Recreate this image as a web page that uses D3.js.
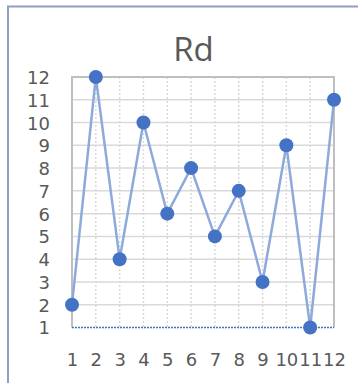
<!DOCTYPE html>
<html>
<head>
<meta charset="utf-8">
<script src="https://cdn.jsdelivr.net/npm/d3@7"></script>
<style>
  html, body { margin: 0; padding: 0; background: #fff; }
  svg { display: block; }
</style>
</head>
<body>
<svg id="chart" width="358" height="383"></svg>
<script>
// Series data
const categories = [1, 2, 3, 4, 5, 6, 7, 8, 9, 10, 11, 12];
const values = [2, 12, 4, 10, 6, 8, 5, 7, 3, 9, 1, 11];
const yTicks = [1, 2, 3, 4, 5, 6, 7, 8, 9, 10, 11, 12];
const title = "Rd";

const plot = { left: 72, right: 334, top: 77, bottom: 327.5 };
const labelFont = "'DejaVu Sans', sans-serif";
const titleFont = "'Open Sans', 'Liberation Sans', sans-serif";

const svg = d3.select("#chart");

// Outer chart frame
svg.append("rect")
  .attr("x", 8).attr("y", 6.5)
  .attr("width", 360).attr("height", 390)
  .attr("fill", "#fff")
  .attr("stroke", "#8da0be")
  .attr("stroke-width", 2);

const x = d3.scalePoint().domain(categories).range([plot.left, plot.right]);
const y = d3.scaleLinear().domain([1, 12]).range([plot.bottom, plot.top]);

// Horizontal gridlines
svg.append("g").selectAll("line")
  .data(yTicks.filter(d => d > 1))
  .join("line")
  .attr("x1", plot.left).attr("x2", plot.right)
  .attr("y1", d => y(d)).attr("y2", d => y(d))
  .attr("stroke", "#d9d9d9").attr("stroke-width", 1.5);

// Vertical dotted gridlines
svg.append("g").selectAll("line")
  .data(categories.slice(1, -1))
  .join("line")
  .attr("x1", d => x(d)).attr("x2", d => x(d))
  .attr("y1", plot.top).attr("y2", plot.bottom)
  .attr("stroke", "#d9d9d9").attr("stroke-width", 1.5)
  .attr("stroke-dasharray", "2,2");

// Plot area border (left, top, right)
svg.append("path")
  .attr("d", `M${plot.left},${plot.bottom}V${plot.top}H${plot.right}V${plot.bottom}`)
  .attr("fill", "none")
  .attr("stroke", "#bfbfbf").attr("stroke-width", 2);

// Dotted baseline
svg.append("line")
  .attr("x1", plot.left).attr("x2", plot.right)
  .attr("y1", plot.bottom).attr("y2", plot.bottom)
  .attr("stroke", "#4472c4").attr("stroke-width", 1.5)
  .attr("stroke-dasharray", "2,1");

// Y axis labels
const yAxis = d3.axisLeft(y).tickValues(yTicks).tickSize(0).tickPadding(0);
const gy = svg.append("g").attr("transform", "translate(50,0)").call(yAxis);
gy.select(".domain").remove();
gy.selectAll("text")
  .attr("font-family", labelFont).attr("font-size", 18)
  .attr("fill", "#595959").attr("dy", "0.36em");

// X axis labels
const xAxis = d3.axisBottom(x).tickSize(0).tickPadding(0);
const gx = svg.append("g").attr("transform", "translate(0,366)").call(xAxis);
gx.select(".domain").remove();
gx.selectAll("text")
  .attr("font-family", labelFont).attr("font-size", 18)
  .attr("fill", "#595959").attr("y", 0).attr("dy", 0);

// Series line
const line = d3.line().x((d, i) => x(categories[i])).y(d => y(d));
svg.append("path")
  .datum(values)
  .attr("d", line)
  .attr("fill", "none")
  .attr("stroke", "#8eaadb")
  .attr("stroke-width", 2.5);

// Markers
svg.append("g").selectAll("circle")
  .data(values)
  .join("circle")
  .attr("cx", (d, i) => x(categories[i]))
  .attr("cy", d => y(d))
  .attr("r", 7)
  .attr("fill", "#4472c4");

// Title
svg.append("text")
  .attr("x", 193.5).attr("y", 61)
  .attr("text-anchor", "middle")
  .attr("font-family", titleFont).attr("font-size", 33)
  .attr("fill", "#595959")
  .text(title);
</script>
</body>
</html>
